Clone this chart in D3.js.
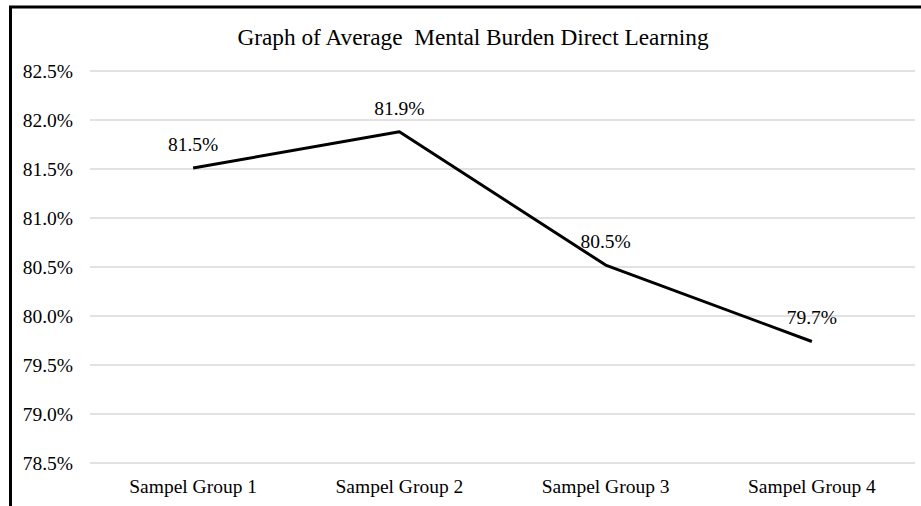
<!DOCTYPE html>
<html lang="en">
  <head>
    <meta charset="utf-8">
    <title>Graph of Average Mental Burden Direct Learning</title>
    <script src="https://d3js.org/d3.v7.min.js"></script>
    <style type="text/css">
      body {
        margin: 0;
        background-color: white;
      }
      .grid line { stroke: #d9d9d9; stroke-width: 1.3px; }
    </style>
  </head>
  <body>
    <svg></svg>
    <script type="text/javascript">

    const groups = ["Sampel Group 1", "Sampel Group 2", "Sampel Group 3", "Sampel Group 4"];
    const averages = [81.51, 81.88, 80.52, 79.74];
    const labels = ["81.5%", "81.9%", "80.5%", "79.7%"];
    const yTicks = [78.5, 79.0, 79.5, 80.0, 80.5, 81.0, 81.5, 82.0, 82.5];

    const serif = "'Liberation Serif', Tinos, 'Times New Roman', serif";

    const width = 921;
    const height = 506;
    const margin = {top: 71, right: 6, bottom: 43, left: 90};

    const svg = d3.select("svg")
      .attr("width", width)
      .attr("height", height);

    // frame of the chart box (only top and left edges are visible in the crop)
    svg.append("path")
      .attr("d", "M10.5," + height + " V7 H" + width)
      .attr("fill", "none")
      .attr("stroke", "black")
      .attr("stroke-width", 3);

    const x = d3.scaleBand()
      .domain(groups)
      .range([margin.left, width - margin.right]);

    const y = d3.scaleLinear()
      .domain([78.5, 82.5])
      .range([height - margin.bottom, margin.top]);

    // horizontal gridlines
    svg.append("g")
      .attr("class", "grid")
      .selectAll("line")
      .data(yTicks)
      .enter()
      .append("line")
      .attr("x1", margin.left)
      .attr("x2", width - margin.right)
      .attr("y1", d => y(d))
      .attr("y2", d => y(d));

    const yAxis = svg.append("g")
      .attr("transform", "translate(" + (margin.left - 17) + ",0)")
      .call(d3.axisLeft(y).tickValues(yTicks).tickSize(0).tickPadding(0)
        .tickFormat(d => d.toFixed(1) + "%"));
    yAxis.select(".domain").remove();
    yAxis.attr("font-family", null).attr("font-size", null);
    yAxis.selectAll(".tick text")
      .attr("dy", "0.35em")
      .style("font-family", serif)
      .style("font-size", "19.5px")
      .attr("fill", "#000");

    const xAxis = svg.append("g")
      .attr("transform", "translate(0," + (height - margin.bottom) + ")")
      .call(d3.axisBottom(x).tickSize(0).tickPadding(16));
    xAxis.select(".domain").remove();
    xAxis.attr("font-family", null).attr("font-size", null);
    xAxis.selectAll(".tick text")
      .style("font-family", serif)
      .style("font-size", "19.5px")
      .attr("fill", "#000");

    const line = d3.line()
      .x((d, i) => x(groups[i]) + x.bandwidth() / 2)
      .y(d => y(d));

    svg.append("path")
      .datum(averages)
      .attr("d", line)
      .attr("fill", "none")
      .attr("stroke", "black")
      .attr("stroke-width", 3)
      .attr("stroke-linejoin", "round");

    svg.selectAll(".valueLabel")
      .data(averages)
      .enter()
      .append("text")
      .attr("class", "valueLabel")
      .attr("x", (d, i) => x(groups[i]) + x.bandwidth() / 2)
      .attr("y", d => y(d) - 17)
      .attr("text-anchor", "middle")
      .style("font-family", serif)
      .style("font-size", "19.5px")
      .text((d, i) => labels[i]);

    svg.append("text")
      .attr("x", 473)
      .attr("y", 45)
      .attr("text-anchor", "middle")
      .style("font-family", serif)
      .style("font-size", "23.3px")
      .style("white-space", "pre")
      .text("Graph of Average  Mental Burden Direct Learning");

    </script>
  </body>
</html>
